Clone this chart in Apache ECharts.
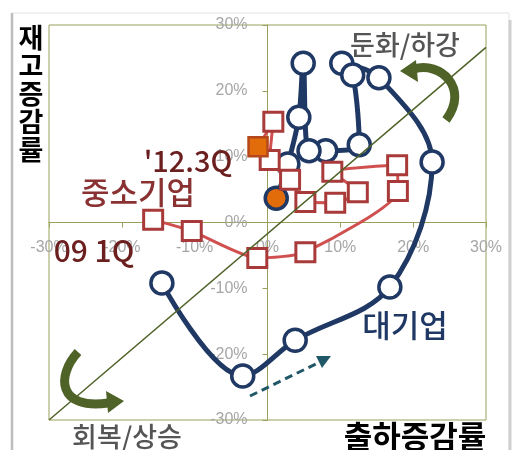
<!DOCTYPE html>
<html>
<head>
<meta charset="utf-8">
<script src="https://cdn.jsdelivr.net/npm/echarts@6/dist/echarts.min.js"></script>
<style>
  html, body { margin: 0; padding: 0; background: #ffffff; }
  #chart { width: 514px; height: 450px; }
</style>
</head>
<body>
<div id="chart"></div>
<script>
// Quarterly growth rates (%), '09 1Q through '12 3Q
// Large firms: shipment growth (x) vs inventory growth (y)
const largeShip = [-14.5, -3.4, 3.8, 16.8, 22.6, 15.3, 10.2, 11.7, 12.6, 8.0, 5.7, 4.9, 4.3, 2.8, 1.2];
const largeInv  = [-9.2, -23.3, -17.9, -9.8, 9.2, 22.0, 24.2, 22.4, 11.8, 10.9, 10.9, 24.2, 16.0, 8.9, 3.7];
// SMEs: shipment growth (x) vs inventory growth (y)
const smeShip = [-15.7, -10.4, -1.4, 5.2, 17.9, 17.8, 8.9, 12.4, 9.3, 5.2, 3.1, 0.3, 0.8, -1.3];
const smeInv  = [0.4, -1.3, -5.4, -4.5, 4.8, 8.7, 7.7, 4.6, 3.0, 3.1, 6.5, 9.5, 15.3, 11.5];
// Reference diagonal
const diagX = [-30, 30];
const diagY = [-30, 26.6];
// Axis ticks
const tickMin = -30, tickMax = 30, tickStep = 10;

const NAVY = '#1f3864';
const ORANGE = '#e36c0a';
const OLIVE = '#4f6228';
const AXIS = '#9aa05a';

const W = 514, H = 450;
const GRID = { left: 49, right: 28, top: 25, bottom: 30 };
const gridW = W - GRID.left - GRID.right;
const gridH = H - GRID.top - GRID.bottom;

function pairs(xs, ys, lastStyle) {
  return xs.map((x, i) => {
    const p = { value: [x, ys[i]] };
    if (i === xs.length - 1 && lastStyle) p.itemStyle = lastStyle;
    return p;
  });
}

const chart = echarts.init(document.getElementById('chart'), null, { renderer: 'canvas' });

// both axes cross at 0 in the middle of the plot; labels travel with them
function makeAxis(offset, margin) {
  return {
    type: 'value',
    min: tickMin, max: tickMax, interval: tickStep,
    offset: offset,
    splitLine: { show: false },
    axisLine: { show: true, onZero: false, lineStyle: { color: AXIS, width: 1 } },
    axisTick: { show: true, length: 5, lineStyle: { color: AXIS } },
    axisLabel: {
      formatter: '{value}%', color: '#a6a6a6', fontSize: 16, margin: margin,
      fontFamily: 'Liberation Sans, Arial, sans-serif'
    }
  };
}

const KR = '"Noto Sans CJK KR", sans-serif';

chart.setOption({
  animation: false,
  grid: Object.assign({ show: true, borderColor: AXIS, borderWidth: 1 }, GRID),
  xAxis: makeAxis(-gridH / 2, 17),
  yAxis: makeAxis(-gridW / 2, 20),
  series: [
    {
      name: '대기업', type: 'line', smooth: 0.35, z: 3,
      data: pairs(largeShip, largeInv, { color: ORANGE, borderColor: NAVY, borderWidth: 3.5 }),
      symbol: 'circle', symbolSize: 22,
      lineStyle: { color: NAVY, width: 5 },
      itemStyle: { color: '#ffffff', borderColor: NAVY, borderWidth: 3.5 }
    },
    {
      name: '중소기업', type: 'line', smooth: 0.2, z: 4,
      data: pairs(smeShip, smeInv, { color: ORANGE, borderColor: '#b5471d', borderWidth: 2.5 }),
      symbol: 'rect', symbolSize: 19,
      lineStyle: { color: '#d05050', width: 3 },
      itemStyle: { color: '#ffffff', borderColor: '#a83a3a', borderWidth: 3 }
    },
    {
      type: 'line', z: 5, silent: true,
      data: diagX.map((x, i) => [x, diagY[i]]),
      symbol: 'none',
      lineStyle: { color: OLIVE, width: 1.5 }
    }
  ],
  graphic: [
    // outer frame
    { type: 'rect', z: 0, shape: { x: 12, y: 13, width: 497, height: 460 },
      style: { fill: 'none', stroke: '#e3e3e3', lineWidth: 1 } },
    { type: 'line', z: 0, shape: { x1: 12, y1: 13, x2: 12, y2: 450 },
      style: { stroke: '#bdbdbd', lineWidth: 2.5 } },
    { type: 'line', z: 0, shape: { x1: 510, y1: 20, x2: 510, y2: 450 },
      style: { stroke: '#d0d0d0', lineWidth: 3 } },
    // axis titles
    { type: 'text', z: 10, x: 31, y: 24,
      style: { text: '재\n고\n증\n감\n률', font: 'bold 27px ' + KR, fill: '#000000',
        textAlign: 'center', textVerticalAlign: 'top', lineHeight: 28 } },
    { type: 'text', z: 10, x: 415, y: 436,
      style: { text: '출하증감률', font: 'bold 31px ' + KR, fill: '#000000',
        textAlign: 'center', textVerticalAlign: 'middle' } },
    // phase labels
    { type: 'text', z: 10, x: 405, y: 45,
      style: { text: '둔화/하강', font: '500 27px ' + KR, fill: '#555555',
        textAlign: 'center', textVerticalAlign: 'middle' } },
    { type: 'text', z: 10, x: 127, y: 437,
      style: { text: '회복/상승', font: '500 27px ' + KR, fill: '#555555',
        textAlign: 'center', textVerticalAlign: 'middle' } },
    // series labels
    { type: 'text', z: 10, x: 188, y: 161,
      style: { text: "'12.3Q", font: '500 29px ' + KR, fill: '#6b1f1f',
        textAlign: 'center', textVerticalAlign: 'middle' } },
    { type: 'text', z: 10, x: 138, y: 192,
      style: { text: '중소기업', font: '500 31px ' + KR, fill: '#8a3232',
        textAlign: 'center', textVerticalAlign: 'middle' } },
    { type: 'text', z: 10, x: 94, y: 251,
      style: { text: '09 1Q', font: '500 30px ' + KR, fill: '#6b1f1f',
        textAlign: 'center', textVerticalAlign: 'middle' } },
    { type: 'text', z: 10, x: 405, y: 325,
      style: { text: '대기업', font: '500 31px ' + KR, fill: NAVY,
        textAlign: 'center', textVerticalAlign: 'middle' } },
    // curved arrow, top right
    { type: 'bezierCurve', z: 10,
      shape: { x1: 414, y1: 69, cpx1: 440, cpy1: 61, cpx2: 470, cpy2: 88, x2: 446, y2: 120 },
      style: { fill: 'none', stroke: OLIVE, lineWidth: 9 } },
    { type: 'polygon', z: 10, shape: { points: [[400, 71], [416, 60], [418, 82]] },
      style: { fill: OLIVE } },
    // curved arrow, bottom left
    { type: 'bezierCurve', z: 10,
      shape: { x1: 78, y1: 352, cpx1: 56, cpy1: 376, cpx2: 58, cpy2: 410, x2: 108, y2: 403 },
      style: { fill: 'none', stroke: OLIVE, lineWidth: 9 } },
    { type: 'polygon', z: 10, shape: { points: [[124, 401], [106, 391], [108, 413]] },
      style: { fill: OLIVE } },
    // dashed direction arrow
    { type: 'line', z: 10, shape: { x1: 250, y1: 396, x2: 322, y2: 361 },
      style: { stroke: '#215868', lineWidth: 3, lineDash: [8, 5] } },
    { type: 'polygon', z: 10, shape: { points: [[331, 356], [316, 356], [322, 368]] },
      style: { fill: '#215868' } }
  ]
});
</script>
</body>
</html>
